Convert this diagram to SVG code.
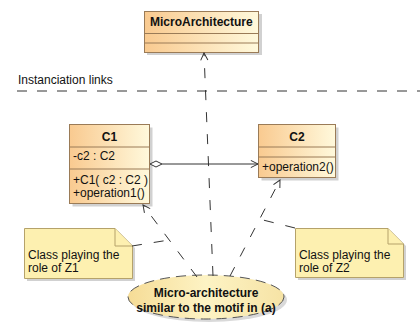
<svg xmlns="http://www.w3.org/2000/svg" width="420" height="331" viewBox="0 0 420 331">
<style>
.cls{stroke:#9a7b57;stroke-width:1;fill:url(#gcls)}
.div{stroke:#9a7b57;stroke-width:1}
.sh{fill:#000;opacity:0.18}
.note{fill:#fdf0b0;stroke:#b5a26a;stroke-width:1}
.t{font-family:"Liberation Sans",Arial,sans-serif;font-size:12px;fill:#111}
.b{font-weight:bold}
.dash{stroke:#333;stroke-width:1;fill:none;stroke-dasharray:10 10}
.link{stroke:#333;stroke-width:1;fill:none;stroke-dasharray:10 12}
</style>
<defs>
<linearGradient id="gcls" x1="0" y1="0" x2="1" y2="0">
<stop offset="0" stop-color="#f9ca90"/>
<stop offset="1" stop-color="#fff9dc"/>
</linearGradient>
<linearGradient id="gell" x1="0" y1="0" x2="1" y2="0">
<stop offset="0" stop-color="#f6dc96"/>
<stop offset="0.5" stop-color="#fdf3c4"/>
<stop offset="1" stop-color="#f6e3a5"/>
</linearGradient>
<marker id="open" viewBox="0 0 10 10" refX="9" refY="5" markerWidth="9" markerHeight="9" markerUnits="userSpaceOnUse" orient="auto">
<path d="M1,1 L9,5 L1,9" fill="none" stroke="#333" stroke-width="1.1"/>
</marker>
</defs>
<rect width="420" height="331" fill="#ffffff"/>

<g id="instanciation">
<text class="t" x="18" y="84">Instanciation links</text>
<line class="dash" x1="17" y1="91" x2="420" y2="91"/>
</g>

<g id="MicroArchitecture">
<rect class="sh" x="147" y="14" width="115" height="41"/>
<rect class="cls" x="144.5" y="11.5" width="114" height="41"/>
<line class="div" x1="144.5" y1="33.5" x2="258.5" y2="33.5"/>
<line class="div" x1="144.5" y1="43" x2="258.5" y2="43"/>
<text class="t b" x="150" y="26">MicroArchitecture</text>
</g>

<g id="C1">
<rect class="sh" x="72.5" y="127.5" width="80" height="79"/>
<rect class="cls" x="69.5" y="124.5" width="80" height="79"/>
<line class="div" x1="69.5" y1="147" x2="149.5" y2="147"/>
<line class="div" x1="69.5" y1="169" x2="149.5" y2="169"/>
<text class="t b" x="109.5" y="141" text-anchor="middle">C1</text>
<text class="t" x="73" y="160">-c2 : C2</text>
<text class="t" x="73" y="184">+C1( c2 : C2 )</text>
<text class="t" x="73" y="197">+operation1()</text>
</g>

<g id="C2">
<rect class="sh" x="261.5" y="127.5" width="77" height="53"/>
<rect class="cls" x="258.5" y="124.5" width="77" height="53"/>
<line class="div" x1="258.5" y1="147" x2="335.5" y2="147"/>
<line class="div" x1="258.5" y1="157" x2="335.5" y2="157"/>
<text class="t b" x="297" y="141" text-anchor="middle">C2</text>
<text class="t" x="262" y="171">+operation2()</text>
</g>

<g id="note1">
<path class="sh" d="M27,231 L118,231 L135,248 L135,281 L27,281 Z"/>
<path class="note" d="M24.5,228.5 L115,228.5 L132.5,246 L132.5,278.5 L24.5,278.5 Z"/>
<path class="note" d="M115,228.5 L115,246 L132.5,246"/>
<text class="t" x="28" y="259">Class playing the</text>
<text class="t" x="28" y="272">role of Z1</text>
</g>

<g id="note2">
<path class="sh" d="M298,231 L391,231 L406,246 L406,280 L298,280 Z"/>
<path class="note" d="M295.5,228.5 L388,228.5 L403.5,244 L403.5,277.5 L295.5,277.5 Z"/>
<path class="note" d="M388,228.5 L388,244 L403.5,244"/>
<text class="t" x="299" y="259">Class playing the</text>
<text class="t" x="299" y="272">role of Z2</text>
</g>

<g id="microarch-ellipse">
<ellipse cx="209" cy="300" rx="78" ry="22" fill="#000" opacity="0.15"/>
<ellipse cx="206" cy="297" rx="78" ry="22" fill="url(#gell)" stroke="#555" stroke-width="1" stroke-dasharray="10 6"/>
<text class="t b" x="206" y="297" text-anchor="middle">Micro-architecture</text>
<text class="t b" x="206" y="312" text-anchor="middle">similar to the motif in (a)</text>
</g>

<g id="connectors">
<line class="link" x1="213" y1="276" x2="204" y2="53" marker-end="url(#open)"/>
<line class="link" x1="197" y1="277" x2="143" y2="205" marker-end="url(#open)"/>
<line class="link" x1="230" y1="276" x2="280" y2="180" marker-end="url(#open)"/>
<line class="link" x1="132" y1="246" x2="169" y2="240"/>
<line class="link" x1="295" y1="228" x2="259" y2="219"/>
<line x1="162" y1="164" x2="258" y2="164" stroke="#333" stroke-width="1" marker-end="url(#open)"/>
<path d="M150,164 L156,161 L162,164 L156,167 Z" fill="#fff" stroke="#333" stroke-width="1"/>
</g>
</svg>
